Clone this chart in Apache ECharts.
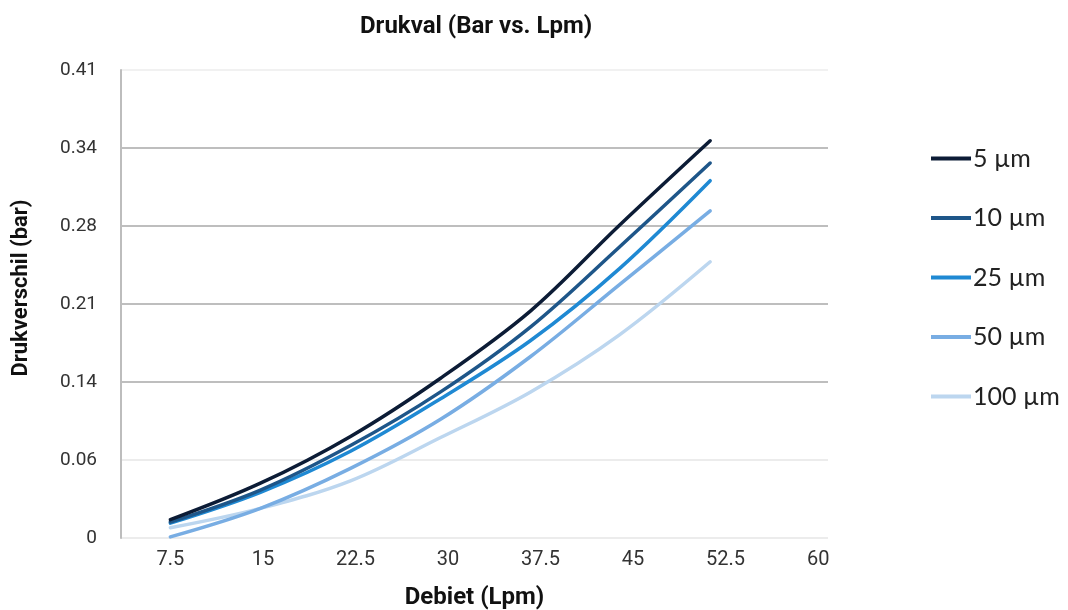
<!DOCTYPE html>
<html>
<head>
<meta charset="utf-8">
<script src="https://cdn.jsdelivr.net/npm/echarts@6/dist/echarts.min.js"></script>
<style>
html,body{margin:0;padding:0;background:#fff;}
#chart{width:1068px;height:610px;}
</style>
</head>
<body>
<div id="chart"></div>
<script>
// Flow (Lpm) of each measured point
const flow = [7.5, 14.8, 22.1, 29.4, 36.7, 43.9, 51.25];
// Pressure drop (bar) per filter grade
const s5 = [0.016, 0.048, 0.089, 0.140, 0.199, 0.274, 0.348];
const s10 = [0.014, 0.042, 0.081, 0.128, 0.185, 0.255, 0.3285];
const s25 = [0.013, 0.040, 0.076, 0.122, 0.173, 0.236, 0.313];
const s50 = [0.001, 0.026, 0.061, 0.104, 0.159, 0.222, 0.2865];
const s100 = [0.009, 0.026, 0.050, 0.088, 0.128, 0.178, 0.242];
const seriesNames = ['5 µm', '10 µm', '25 µm', '50 µm', '100 µm'];
const xTickValues = [7.5, 15, 22.5, 30, 37.5, 45, 52.5, 60];
const xTickLabels = ['7.5', '15', '22.5', '30', '37.5', '45', '52.5', '60'];
const yTickLabels = ['0', '0.06', '0.14', '0.21', '0.28', '0.34', '0.41'];
const yMax = 0.41;

const colors = ['#0c1c36', '#1e5689', '#1f89d3', '#78ade3', '#bcd6ef'];
const allData = [s5, s10, s25, s50, s100];

const chart = echarts.init(document.getElementById('chart'), null, {renderer: 'canvas'});
const yStep = yMax / 6;

chart.setOption({
  animation: false,
  backgroundColor: '#ffffff',
  color: colors,
  title: {
    text: 'Drukval (Bar vs. Lpm)',
    left: 355,
    top: 10,
    textStyle: {fontFamily: 'Roboto', fontWeight: 'bold', fontSize: 24, color: '#111'}
  },
  legend: {
    orient: 'vertical',
    left: 926,
    top: 141,
    icon: 'rect',
    itemWidth: 40,
    itemHeight: 4,
    itemGap: 34.5,
    data: seriesNames,
    textStyle: {fontFamily: 'Lato', fontSize: 25, color: '#222', lineHeight: 22, padding: [0, 0, 0, -3]}
  },
  grid: {left: 121, right: 240, top: 70, bottom: 72, containLabel: false, outerBoundsMode: 'none'},
  xAxis: {
    type: 'value',
    min: 3.5,
    max: 60.8,
    name: 'Debiet (Lpm)',
    nameLocation: 'middle',
    nameGap: 48,
    nameTextStyle: {fontFamily: 'Roboto', fontWeight: 'bold', fontSize: 24, color: '#111'},
    axisLine: {show: false},
    axisTick: {show: false},
    splitLine: {show: false},
    axisLabel: {
      customValues: xTickValues,
      formatter: function (v) {
        const i = xTickValues.findIndex(t => Math.abs(t - v) < 1e-6);
        return i >= 0 ? xTickLabels[i] : '';
      },
      fontFamily: 'Roboto', fontSize: 20, color: '#333', margin: 12
    }
  },
  yAxis: {
    type: 'value',
    min: 0,
    max: yMax,
    interval: yStep,
    name: 'Drukverschil (bar)',
    nameLocation: 'middle',
    nameGap: 89,
    nameTextStyle: {fontFamily: 'Roboto', fontWeight: 'bold', fontSize: 22, color: '#111', padding: [0, 0, 0, 32]},
    axisLine: {show: true, lineStyle: {color: '#bdbdbd', width: 2}},
    axisTick: {show: false},
    splitLine: {
      show: true,
      lineStyle: {color: ['#e6e6e6', '#e6e6e6', '#a9a9a9', '#a9a9a9', '#a9a9a9', '#a9a9a9', '#ececec'], width: 1.5}
    },
    axisLabel: {
      formatter: function (v) {
        const i = Math.round(v / yStep);
        return yTickLabels[i] !== undefined ? yTickLabels[i] : '';
      },
      fontFamily: 'Roboto', fontSize: 19, color: '#333', margin: 24
    }
  },
  series: allData.map((d, k) => ({
    name: seriesNames[k],
    type: 'line',
    smooth: 0.35,
    symbol: 'none',
    lineStyle: {width: 3.5, color: colors[k], cap: 'round'},
    itemStyle: {color: colors[k]},
    z: 10 - k,
    data: flow.map((x, i) => [x, d[i]])
  }))
});
</script>
</body>
</html>
